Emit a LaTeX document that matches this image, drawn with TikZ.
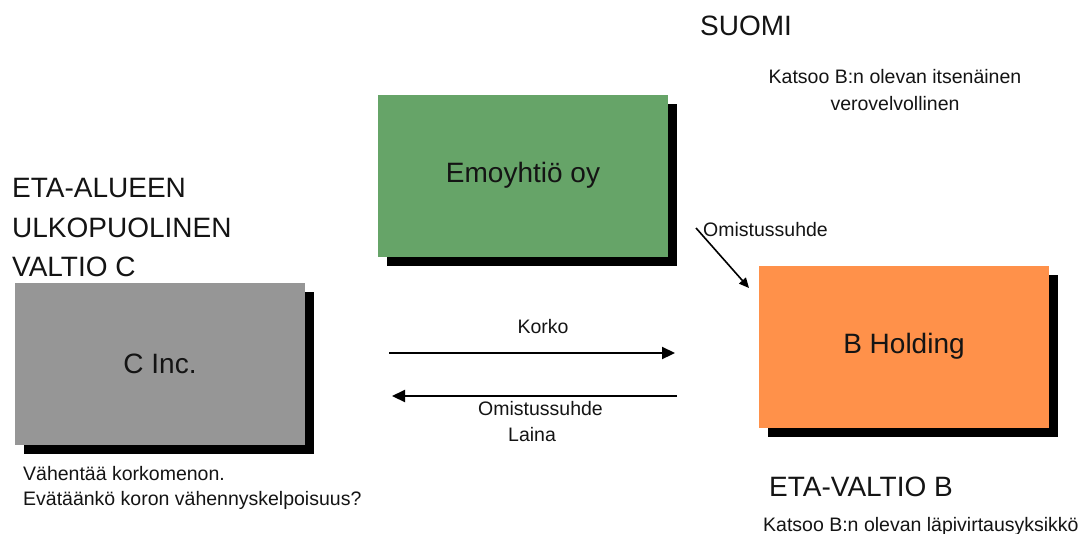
\documentclass[tikz,border=0pt]{standalone}
\usepackage{fontspec}
\setmainfont{Liberation Sans}
\usetikzlibrary{arrows.meta,shadows}

\definecolor{emogreen}{RGB}{102,164,104}
\definecolor{borange}{RGB}{255,145,74}
\definecolor{cgray}{RGB}{150,150,150}
\definecolor{ink}{RGB}{20,20,20}

\newcommand{\bigtxt}{\fontsize{28}{33}\selectfont}
\newcommand{\smalltxt}{\fontsize{19.5}{24}\selectfont}

\tikzset{
  company/.style={draw=none, minimum width=290pt, minimum height=162pt,
    inner sep=0pt, text=ink, font=\bigtxt,
    drop shadow={shadow xshift=9pt, shadow yshift=-9pt, opacity=1, fill=black}},
  label/.style={inner sep=0pt, text=ink, font=\smalltxt},
  heading/.style={inner sep=0pt, text=ink, font=\bigtxt},
  flow/.style={line width=2.2pt, -{Triangle[length=13pt,width=12pt]}},
  owner/.style={line width=1.6pt, -{Triangle[length=10pt,width=9pt]}}
}

\begin{document}
\begin{tikzpicture}[x=1pt,y=-1pt]
  \useasboundingbox (0,0) rectangle (1083,533);
  \fill[white] (0,0) rectangle (1083,533);

  % companies
  \node[company, fill=emogreen] (emo) at (523,175.5) {Emoyhtiö oy};
  \node[company, fill=borange]  (bh)  at (904,346.5) {B Holding};
  \node[company, fill=cgray]    (ci)  at (160,363.5) {C Inc.};

  % country headings
  \node[heading, anchor=base west] (suomi) at (700,35) {SUOMI};
  \node[heading, anchor=base west] (eta1) at (12,197) {ETA-ALUEEN};
  \node[heading, anchor=base west] (eta2) at (12,237) {ULKOPUOLINEN};
  \node[heading, anchor=base west] (eta3) at (12,276) {VALTIO C};
  \node[heading, anchor=base west] (etab) at (769,496) {ETA-VALTIO B};

  % remarks
  \node[label, anchor=base] (fi1) at (895,83) {Katsoo B:n olevan itsenäinen};
  \node[label, anchor=base] (fi2) at (895,110) {verovelvollinen};
  \node[label, anchor=base west] (c1) at (23,480) {Vähentää korkomenon.};
  \node[label, anchor=base west] (c2) at (23,505) {Evätäänkö koron vähennyskelpoisuus?};
  \node[label, anchor=base west] (b1) at (763,531) {Katsoo B:n olevan läpivirtausyksikkö};

  % flows between C Inc. and B Holding
  \coordinate (k1) at (389,353);
  \coordinate (k2) at (675,353);
  \coordinate (l1) at (677,396);
  \coordinate (l2) at (392,396);
  \draw[flow] (k1) -- (k2);
  \draw[flow] (l1) -- (l2);
  \node[label, anchor=base] (korko) at (543,333) {Korko};
  \node[label, anchor=base west] (om1) at (478,415) {Omistussuhde};
  \node[label, anchor=base west] (laina) at (508,441) {Laina};

  % ownership of B Holding
  \node[label, anchor=base west] (om2) at (703,236) {Omistussuhde};
  \coordinate (o1) at (696,228);
  \draw[owner] (o1) -- (749,288);
\end{tikzpicture}
\end{document}
